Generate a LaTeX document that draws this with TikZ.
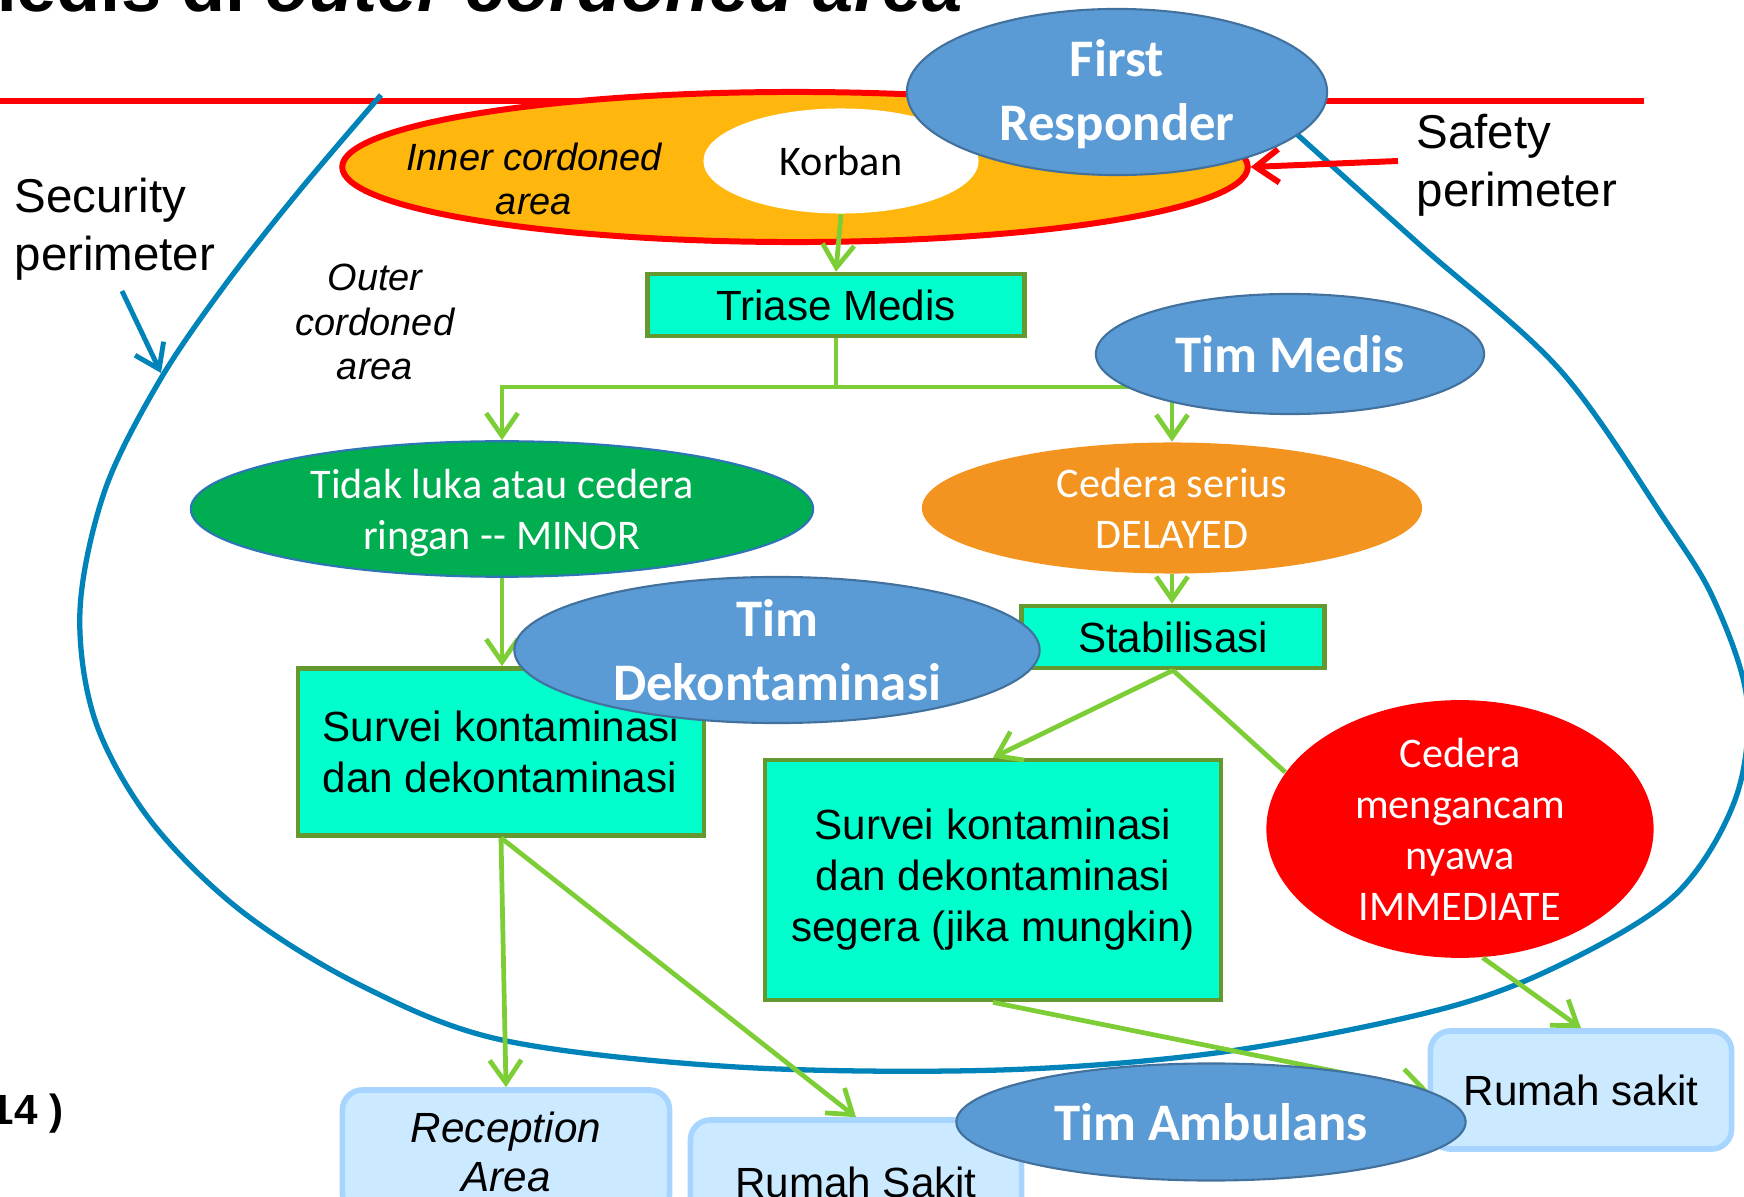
\documentclass[tikz,border=0pt]{standalone}
\usepackage{fontspec}
\setmainfont{Liberation Sans}
\newfontfamily\calfont{Carlito}
\usetikzlibrary{shapes.geometric,arrows.meta}

\definecolor{aquabox}{HTML}{00FFCC}
\definecolor{boxgreen}{HTML}{63992E}
\definecolor{arrgreen}{HTML}{7DCE36}
\definecolor{lbfill}{HTML}{CCEAFF}
\definecolor{lbdraw}{HTML}{A8D5FF}
\definecolor{teamfill}{HTML}{5B9BD5}
\definecolor{teamdraw}{HTML}{41719C}
\definecolor{minorgreen}{HTML}{00AD50}
\definecolor{minordraw}{HTML}{2E75B6}
\definecolor{delayorange}{HTML}{F39421}
\definecolor{innerfill}{HTML}{FFB60D}
\definecolor{perblue}{HTML}{0083B8}

\begin{document}
\begin{tikzpicture}[x=0.01cm,y=-0.01cm,
  stepbox/.style={rectangle, fill=aquabox, draw=boxgreen, line width=1.3pt, inner sep=0pt,
    font=\fontsize{12pt}{14.5pt}\selectfont, align=center},
  destbox/.style={rectangle, rounded corners=0.2cm, fill=lbfill, draw=lbdraw, line width=1.6pt,
    inner sep=0pt, font=\fontsize{12pt}{14pt}\selectfont, align=center},
  team/.style={ellipse, fill=teamfill, draw=teamdraw, line width=0.6pt, inner sep=0pt, text=white,
    font=\calfont\bfseries\fontsize{15pt}{18.2pt}\selectfont, align=center},
  triage/.style={ellipse, inner sep=0pt, text=white,
    font=\calfont\fontsize{12pt}{14.5pt}\selectfont, align=center},
  flow/.style={draw=arrgreen, line width=1.35pt},
  flowarrow/.style={flow, -{Straight Barb[length=6.5pt,width=9pt]}},
  lbl/.style={font=\fontsize{13.5pt}{16.5pt}\selectfont, align=left, inner sep=0pt},
  arealbl/.style={font=\itshape\fontsize{10.8pt}{12.6pt}\selectfont, align=center, inner sep=0pt}
]
\useasboundingbox (0,0) rectangle (1744,1197);

% title (cut at top) and cut reference text
\node[anchor=base east, inner sep=0pt, font=\bfseries\fontsize{20.5pt}{24pt}\selectfont] (title) at (963,12)
  {medis di \textit{outer cordoned area}};
\node[anchor=base east, inner sep=0pt, font=\bfseries\fontsize{12pt}{14pt}\selectfont] (cite) at (64,1124) {2014 )};

% safety perimeter line
\coordinate (redL) at (0,101);
\coordinate (redR) at (1644,101);
\draw[red, line width=1.7pt] (redL) -- (redR);

% security perimeter curve
\draw[perblue, line width=1.5pt] plot[smooth, tension=0.55] coordinates {
  (381,95) (300,190) (225,285) (160,380) (105,490) (80,610) (95,720) (150,820) (240,910)
  (360,985) (502,1040) (737,1067) (1000,1070) (1223,1052) (1438,1010) (1560,965)
  (1675,895) (1735,800) (1747,700) (1714,600) (1665,520) (1560,370) (1420,245) (1290,128)};

% inner cordoned area
\node[ellipse, fill=innerfill, draw=red, line width=1.7pt, minimum width=9.05cm, minimum height=1.5cm,
  inner sep=0pt] (inner) at (795,167) {};
\node[arealbl] (innerlbl) at (534,179) {Inner cordoned\\area};
\node[ellipse, fill=white, minimum width=2.75cm, minimum height=1.05cm, inner sep=0pt,
  font=\calfont\fontsize{12pt}{14pt}\selectfont] (korban) at (841,161) {Korban};

% labels
\node[lbl, anchor=west] (seclbl) at (14,229) {Security\\perimeter};
\node[lbl, anchor=west] (safelbl) at (1416,165) {Safety\\perimeter};
\node[arealbl] (outerlbl) at (375,322) {Outer\\cordoned\\area};

\coordinate (secfrom) at (122,291);
\coordinate (secto) at (161,373);
\draw[perblue, line width=1.4pt, -{Straight Barb[length=6.5pt,width=9pt]}] (secfrom) -- (secto);
\coordinate (safefrom) at (1398,161);
\draw[red, line width=1.7pt, -{Straight Barb[length=6.5pt,width=9.5pt]}] (safefrom) -- (inner.east);

% flow nodes
\node[stepbox, minimum width=3.77cm, minimum height=0.62cm] (triase) at (836,305) {Triase Medis};
\node[triage, fill=minorgreen, draw=minordraw, line width=0.6pt, minimum width=6.22cm, minimum height=1.35cm]
  (minor) at (502,509) {\rule{0pt}{10.7pt}Tidak luka atau cedera\\ringan {-}{-} MINOR};
\node[triage, fill=delayorange, minimum width=5cm, minimum height=1.31cm]
  (delayed) at (1172,508) {Cedera serius\\DELAYED};
\node[stepbox, minimum width=3.03cm, minimum height=0.62cm] (stab) at (1173,637) {Stabilisasi};
\node[stepbox, align=left, minimum width=4.06cm, minimum height=1.67cm] (surv1) at (501,752)
  {Survei kontaminasi\\dan dekontaminasi};
\node[stepbox, minimum width=4.56cm, minimum height=2.40cm] (surv2) at (993,880)
  {Survei kontaminasi\\dan dekontaminasi\\segera (jika mungkin)};
\node[triage, fill=red, minimum width=3.87cm, minimum height=2.13cm] (imm) at (1460,829)
  {Cedera\\mengancam\\nyawa\\IMMEDIATE};
\node[destbox, minimum width=3.01cm, minimum height=1.18cm] (rs2) at (1581,1090) {Rumah sakit};
\node[destbox, font=\itshape\fontsize{12pt}{14pt}\selectfont, minimum width=3.27cm, minimum height=1.24cm]
  (recep) at (506,1152) {Reception\\Area};
\node[destbox, minimum width=3.31cm, minimum height=1.24cm] (rs1) at (856,1182) {Rumah Sakit};

% connectors
\draw[flowarrow] (korban.south) -- (triase.north);
\coordinate (split) at (836,387);
\draw[flow] (triase.south) -- (split);
\draw[flowarrow] (split) -| (minor.north);
\draw[flowarrow] (split) -| (delayed.north);
\draw[flowarrow] (minor.south) -- (minor.south |- surv1.north);
\draw[flowarrow] (delayed.south) -- (delayed.south |- stab.north);
\draw[flowarrow] (stab.south) -- (surv2.north);
\draw[flow] (stab.south) -- (imm.162);
\draw[flowarrow] (imm.-80) -- (rs2.north);
\draw[flowarrow] (surv2.south) -- (rs2.west);
\draw[flowarrow] (surv1.south) -- (recep.north);
\draw[flowarrow] (surv1.south) -- (rs1.north);

% teams on top
\node[team, minimum width=4.2cm, minimum height=1.66cm] (first) at (1117,92) {\rule{0pt}{11.8pt}First\\Responder};
\node[team, minimum width=3.88cm, minimum height=1.2cm] (timmedis) at (1290,354) {Tim Medis};
\node[team, minimum width=5.25cm, minimum height=1.46cm] (timdekon) at (777,650) {Tim\\Dekontaminasi};
\node[team, minimum width=5.09cm, minimum height=1.17cm] (timamb) at (1211,1122) {Tim Ambulans};
\end{tikzpicture}
\end{document}
